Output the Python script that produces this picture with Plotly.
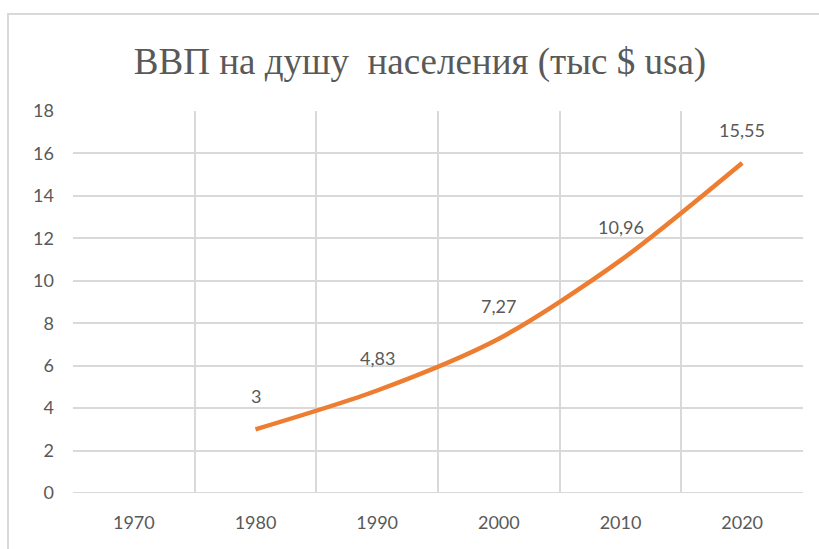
import plotly.graph_objects as go

years = [1970, 1980, 1990, 2000, 2010, 2020]
gdp = [None, 3, 4.83, 7.27, 10.96, 15.55]
labels = ["", "3", "4,83", "7,27", "10,96", "15,55"]
ytick_vals = list(range(0, 19, 2))
title_text = "ВВП на душу\u00a0 населения (тыс $ usa)"

grid = "#d9d9d9"
txt = "#595959"
sans = "Lato, 'Open Sans', sans-serif"
serif = "'Liberation Serif', 'Times New Roman', serif"

fig = go.Figure()
fig.add_trace(go.Scatter(
    x=years, y=gdp, mode="lines",
    line=dict(color="#ED7D31", width=4.5, shape="spline", smoothing=0.8),
    hoverinfo="skip", showlegend=False, connectgaps=False,
))

for x, y, t in zip(years, gdp, labels):
    if y is None:
        continue
    fig.add_annotation(x=x, y=y, text=t, showarrow=False, yshift=33,
                       font=dict(family=sans, size=18, color=txt))

bounds = [years[0] - 5 + 10 * i for i in range(len(years) + 1)]

fig.update_layout(
    width=819, height=549,
    margin=dict(l=73, r=16, t=111, b=56),
    paper_bgcolor="white", plot_bgcolor="white",
    title=dict(text=title_text, x=420 / 819, xanchor="center", y=0.888, yanchor="middle",
               font=dict(family=serif, size=37, color=txt)),
    xaxis=dict(range=[bounds[0], bounds[-1]], tickvals=years, ticktext=[str(y) for y in years],
               showgrid=False, zeroline=False, showline=False, ticks="",
               ticklabelstandoff=17,
               tickfont=dict(family=sans, size=18, color=txt),
               minor=dict(tickvals=bounds, showgrid=True, gridcolor=grid, gridwidth=2)),
    yaxis=dict(range=[0, 18], tickvals=ytick_vals, showgrid=True, gridcolor=grid, gridwidth=2,
               zeroline=False, showline=False, ticks="", ticklabelstandoff=18,
               tickfont=dict(family=sans, size=18, color=txt)),
    shapes=[dict(type="rect", xref="paper", yref="paper",
                 x0=(8 - 73) / 730, x1=(840 - 73) / 730,
                 y0=(493 - 580) / 382, y1=1 + (111 - 14) / 382,
                 line=dict(color=grid, width=2), layer="below")],
)
fig.add_shape(type="line", xref="paper", yref="y", x0=0, x1=1, y0=0, y1=0,
              line=dict(color=grid, width=2))

fig.write_html("out.html", config={"displayModeBar": False},
               post_script="document.body.style.margin='0';")
